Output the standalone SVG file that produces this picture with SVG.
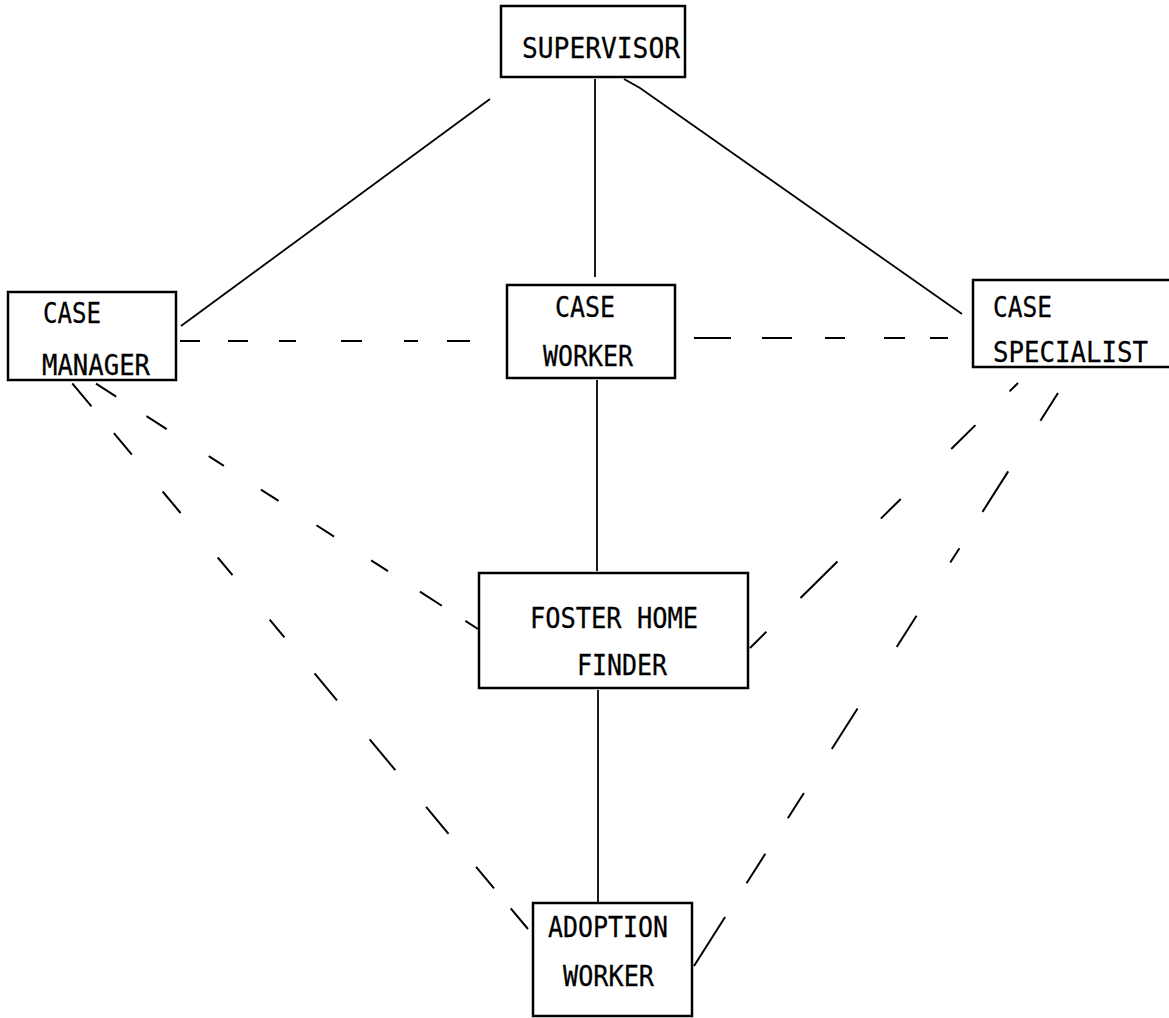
<svg xmlns="http://www.w3.org/2000/svg" width="1169" height="1018" viewBox="0 0 1169 1018">
  <style>
    .box { fill: #fff; stroke: #000; stroke-width: 2.5; }
    .lbl { font-family: "DejaVu Sans Mono", "Liberation Mono", monospace; font-size: 29px; fill: #000; stroke: #000; stroke-width: 0.3; }
    .solid { stroke: #000; stroke-width: 1.8; fill: none; }
    .dash { stroke: #000; stroke-width: 2; fill: none; }
  </style>

  <!-- connectors -->
  <g id="connectors">
    <!-- solid reporting lines -->
    <line class="solid" x1="595" y1="79" x2="595" y2="277"/>
    <line class="solid" x1="597" y1="380" x2="597" y2="571"/>
    <line class="solid" x1="598" y1="690" x2="598" y2="903"/>
    <line class="solid" x1="490" y1="99" x2="181" y2="326"/>
    <polyline class="solid" points="624,79 640,88 962,314"/>

    <!-- dashed horizontal links -->
    <line class="dash" x1="180" y1="341" x2="478" y2="341" stroke-dasharray="20 28 20 31 17 45 21 42 14 29 23"/>
    <line class="dash" x1="694" y1="338" x2="950" y2="338" stroke-dasharray="37 31 30 33 20 39 21 25 18"/>

    <!-- dashed diagonal links, drawn outward from the lower box -->
    <line class="dash" x1="478" y1="629" x2="95" y2="383" stroke-dasharray="15 28 26 38 20 44 21 45 21 44 18 50 24 36 24"/>
    <line class="dash" x1="528" y1="929" x2="72" y2="383" stroke-dasharray="27 26 28 43 35 48 40 51 35 47 23 58 23 58 28 48 28 35 30"/>
    <line class="dash" x1="750" y1="648" x2="1018" y2="383" stroke-dasharray="23 48 52 61 28 71 34 48 12"/>
    <line class="dash" x1="694" y1="966" x2="1058" y2="393" stroke-dasharray="58 40 35 42 30 52 48 73 37 63 17 43 48 60 33"/>
  </g>

  <g id="supervisor">
    <rect class="box" x="501" y="6" width="184" height="71"/>
    <text class="lbl" x="522" y="58" textLength="158" lengthAdjust="spacingAndGlyphs">SUPERVISOR</text>
  </g>

  <g id="case-manager">
    <rect class="box" x="8" y="292" width="168" height="88"/>
    <text class="lbl" x="43" y="323" textLength="58" lengthAdjust="spacingAndGlyphs">CASE</text>
    <text class="lbl" x="42" y="375" textLength="108" lengthAdjust="spacingAndGlyphs">MANAGER</text>
  </g>

  <g id="case-worker">
    <rect class="box" x="507" y="285" width="168" height="93"/>
    <text class="lbl" x="555" y="317" textLength="60" lengthAdjust="spacingAndGlyphs">CASE</text>
    <text class="lbl" x="543" y="366" textLength="90" lengthAdjust="spacingAndGlyphs">WORKER</text>
  </g>

  <g id="case-specialist">
    <path class="box" d="M1169,280 H973 V367 H1169"/>
    <text class="lbl" x="993" y="317" textLength="59" lengthAdjust="spacingAndGlyphs">CASE</text>
    <text class="lbl" x="993" y="362" textLength="155" lengthAdjust="spacingAndGlyphs">SPECIALIST</text>
  </g>

  <g id="foster-home-finder">
    <rect class="box" x="479" y="573" width="269" height="115"/>
    <text class="lbl" x="530" y="628" textLength="168" lengthAdjust="spacingAndGlyphs">FOSTER HOME</text>
    <text class="lbl" x="577" y="675" textLength="90" lengthAdjust="spacingAndGlyphs">FINDER</text>
  </g>

  <g id="adoption-worker">
    <rect class="box" x="533" y="903" width="159" height="113"/>
    <text class="lbl" x="548" y="937" textLength="120" lengthAdjust="spacingAndGlyphs">ADOPTION</text>
    <text class="lbl" x="563" y="986" textLength="91" lengthAdjust="spacingAndGlyphs">WORKER</text>
  </g>
</svg>
